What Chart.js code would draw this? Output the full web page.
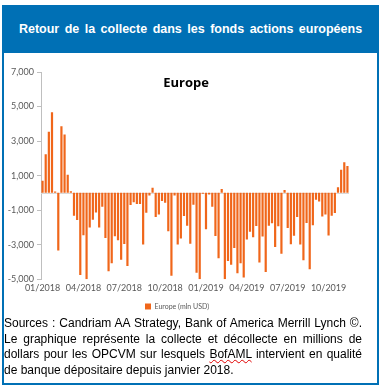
<!DOCTYPE html>
<html>
<head>
<meta charset="utf-8">
<script src="https://cdn.jsdelivr.net/npm/chart.js@4.4.1/dist/chart.umd.min.js"></script>
<style>
  body { margin: 0; background: #fff; width: 382px; height: 390px; overflow: hidden; font-family: "Liberation Sans", Arial, sans-serif; }
  #frame { position: absolute; left: 2px; top: 5px; width: 373px; height: 378px; border: 2px solid #0070b5; border-top: none; }
  #header { position: absolute; left: 2px; top: 5px; width: 377px; height: 48px; background: #0070b5; color: #fff;
            font-weight: bold; font-size: 12.5px; text-align: center; line-height: 48px; word-spacing: 2px; }
  #chartBox { position: absolute; left: 5px; top: 56px; width: 368px; height: 264px; }
  #chartTitle { position: absolute; left: 0; width: 372px; top: 73px; text-align: center;
                font-family: "Open Sans", sans-serif; font-weight: bold; font-size: 13px; color: #000; }
  #note { position: absolute; left: 4px; top: 316px; width: 358px; font-size: 12px; line-height: 15.7px; color: #000; }
  #note span { display: block; text-align: justify; text-align-last: justify; }
  #note span.last { text-align-last: left; }
  .spell { text-decoration: underline wavy #e00000; text-decoration-thickness: 1px; }
</style>
</head>
<body>
<div id="frame"></div>
<div id="header">Retour de la collecte dans les fonds actions européens</div>
<div id="chartBox"><canvas id="chart-area"></canvas></div>
<div id="chartTitle">Europe</div>
<div id="note">
  <span>Sources : Candriam AA Strategy, Bank of America Merrill Lynch ©.</span>
  <span>Le graphique représente la collecte et décollecte en millions de</span>
  <span>dollars pour les OPCVM sur lesquels <span class="spell" style="display:inline">BofAML</span> intervient en qualité</span>
  <span class="last">de banque dépositaire depuis janvier 2018.</span>
</div>
<script>
// weekly flows, Europe equity funds (mln USD), first week of Jan 2018 onwards
var flows = [
  700, 2230, 3540, 4670, 80, -3340, 3860, 3380, 1050, 100,
  -1320, -1570, -4760, -2450, -5000, -2000, -1560, -1130, -2000, -800,
  -2620, -4540, -4080, -2510, -2740, -3880, -2960, -4230, -700, -540,
  -640, -640, -2990, -1150, -150, 300, -1400, -1250, -470, -570,
  -2220, -4800, -150, -2990, -2640, -1340, -1900, -2940, -690, -4630,
  -5000, -50, -2100, -100, -810, -2500, -3790, 230, -5000, -3940,
  -4160, -3190, -4660, -4080, -4900, -2700, -2250, -2570, -1920, -4030,
  -2520, -4590, -1900, -1760, -3130, -1940, -3520, 160, -2040, -2970,
  -2490, -1400, -2990, -3900, -1740, -4420, -1880, -400, -500, -1370,
  -1250, -2470, -1330, -1170, 330, 1340, 1780, 1560
];
var tickLabels = ['01/2018', '04/2018', '07/2018', '10/2018', '01/2019', '04/2019', '07/2019', '10/2019'];
var seriesName = 'Europe (mln USD)';

// one category per week, starting 03/01/2018
var weeks = [];
for (var i = 0; i < flows.length; i++) {
  var d = new Date(Date.UTC(2018, 0, 3 + 7 * i));
  var mm = ('0' + (d.getUTCMonth() + 1)).slice(-2);
  weeks.push(('0' + d.getUTCDate()).slice(-2) + '/' + mm + '/' + d.getUTCFullYear());
}

var zeroLine = {
  id: 'zeroLine',
  beforeDatasetsDraw: function(chart) {
    var ctx = chart.ctx, area = chart.chartArea;
    var y = Math.round(chart.scales.y.getPixelForValue(0)) + 0.5;
    ctx.save();
    ctx.strokeStyle = '#d9d9d9';
    ctx.lineWidth = 1;
    ctx.beginPath();
    ctx.moveTo(area.left, y);
    ctx.lineTo(area.right, y);
    ctx.stroke();
    ctx.restore();
  }
};

window.onload = function() {
  var ctx = document.getElementById('chart-area').getContext('2d');
  var config = {
    type: 'bar',
    data: {
      labels: weeks,
      datasets: [{
        label: seriesName,
        data: flows,
        backgroundColor: '#f0661a',
        barPercentage: 0.7,
        categoryPercentage: 1.0
      }]
    },
    options: {
      responsive: true,
      maintainAspectRatio: false,
      animation: false,
      layout: { padding: { top: 16, right: 24, bottom: 0, left: 0 } },
      plugins: {
        title: { display: false },
        tooltip: { enabled: false },
        legend: {
          position: 'bottom',
          labels: {
            boxWidth: 6,
            boxHeight: 6,
            padding: 7,
            color: '#595959',
            font: { family: 'Lato', size: 7 }
          }
        }
      },
      scales: {
        x: {
          grid: { display: false, drawTicks: false },
          border: { display: false },
          ticks: {
            autoSkip: false,
            maxRotation: 0,
            padding: 3,
            color: '#595959',
            font: { family: 'Lato', size: 9 },
            callback: function(v, i) {
              var m = weeks[i].slice(3);
              var prev = i > 0 ? weeks[i - 1].slice(3) : '';
              return (m !== prev && tickLabels.indexOf(m) >= 0) ? m : '';
            }
          }
        },
        y: {
          min: -5000,
          max: 7000,
          afterFit: function(scale) { scale.width = 36; },
          grid: { drawOnChartArea: false, tickLength: 4, color: '#bfbfbf' },
          border: { color: '#bfbfbf' },
          ticks: {
            stepSize: 2000,
            padding: 3,
            color: '#595959',
            font: { family: 'Lato', size: 9 },
            callback: function(v) { return v.toLocaleString('en-US'); }
          }
        }
      }
    },
    plugins: [zeroLine]
  };
  window.myBar = new Chart(ctx, config);
};
</script>
</body>
</html>
